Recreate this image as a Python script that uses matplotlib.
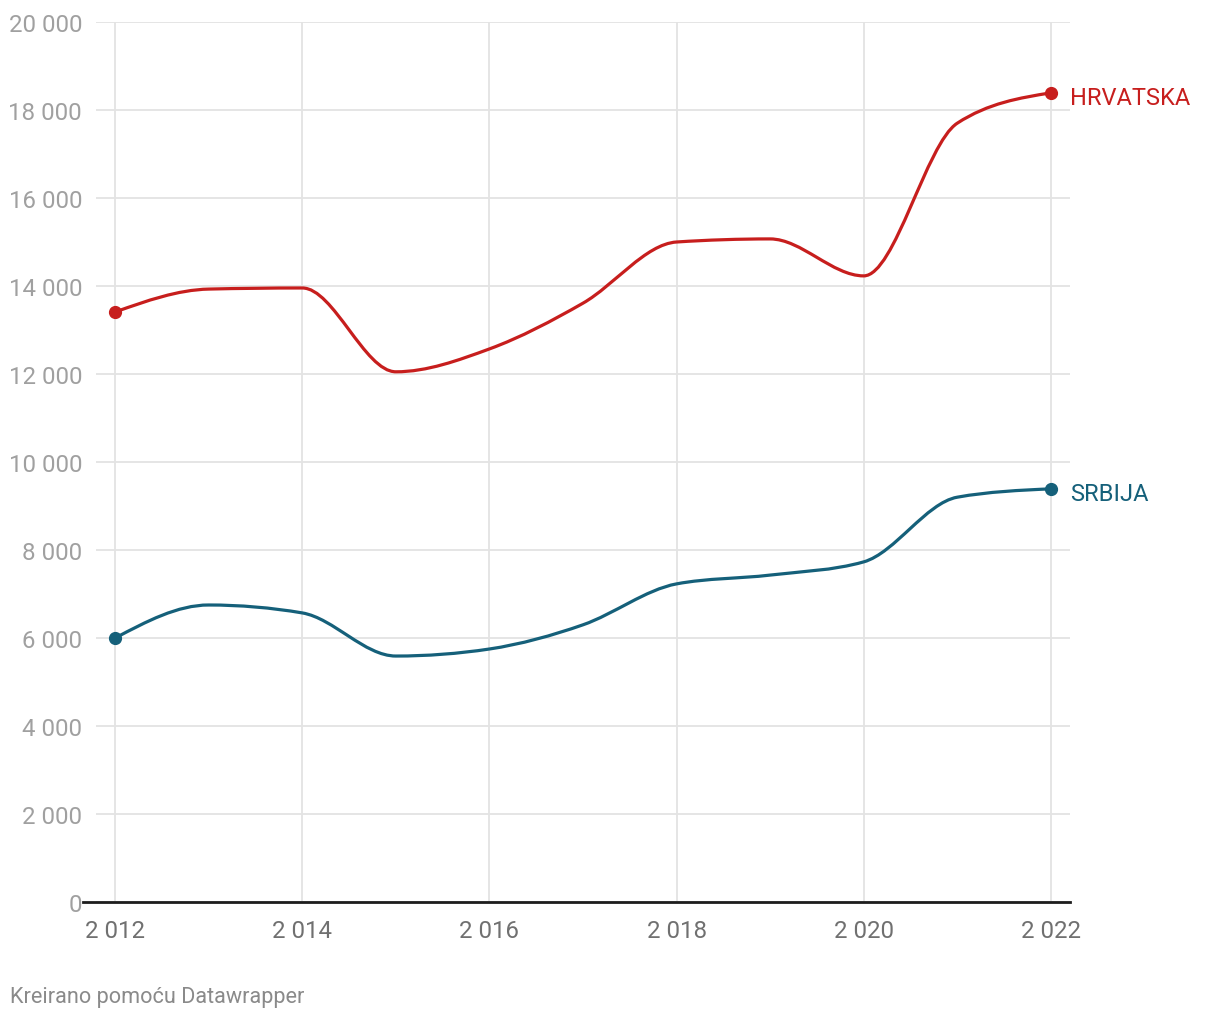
#Grafikon: Hrvatska i Srbija 2012-2022
import numpy as np
import matplotlib.pyplot as plt
from matplotlib.path import Path
from matplotlib.patches import PathPatch
from matplotlib.ticker import FuncFormatter

plt.rcParams['font.family'] = ['Roboto', 'DejaVu Sans']

#Podaci
godine = [2012, 2013, 2014, 2015, 2016, 2017, 2018, 2019, 2020, 2021, 2022]
hrvatska = [13410, 13930, 13955, 12050, 12570, 13610, 15000, 15070, 14230, 17700, 18390]
srbija = [6000, 6750, 6570, 5590, 5750, 6300, 7230, 7430, 7730, 9200, 9390]
nazivi = ['HRVATSKA', 'SRBIJA']
boje = ['#c71e1d', '#15607a']


def monotona_putanja(x, y):
    #Bezier putanja kao d3 curveMonotoneX
    x = np.asarray(x, float)
    y = np.asarray(y, float)
    n = len(x)
    h = np.diff(x)
    s = np.diff(y) / h
    t = np.zeros(n)
    for i in range(1, n - 1):
        p = (s[i - 1] * h[i] + s[i] * h[i - 1]) / (h[i - 1] + h[i])
        t[i] = (np.sign(s[i - 1]) + np.sign(s[i])) * min(abs(s[i - 1]), abs(s[i]), 0.5 * abs(p))
    t[0] = (3 * s[0] - t[1]) / 2
    t[-1] = (3 * s[-1] - t[-2]) / 2
    verts = [(x[0], y[0])]
    codes = [Path.MOVETO]
    for i in range(n - 1):
        dx = (x[i + 1] - x[i]) / 3
        verts += [(x[i] + dx, y[i] + dx * t[i]),
                  (x[i + 1] - dx, y[i + 1] - dx * t[i + 1]),
                  (x[i + 1], y[i + 1])]
        codes += [Path.CURVE4] * 3
    return Path(verts, codes)


fig = plt.figure(figsize=(12.2, 10.2), dpi=100)
ax = fig.add_axes([96 / 1220, 1 - 903 / 1020, (1070 - 96) / 1220, (903 - 23) / 1020])

for serija, naziv, boja in zip([hrvatska, srbija], nazivi, boje):
    ax.add_patch(PathPatch(monotona_putanja(godine, serija), fill=False,
                           edgecolor=boja, lw=2.3, capstyle='round', zorder=3))
    ax.plot([godine[0], godine[-1]], [serija[0], serija[-1]], 'o', color=boja,
            ms=8.5, zorder=4)
    ax.annotate(naziv, (godine[-1], serija[-1]), xytext=(14, -3),
                textcoords='offset points', color=boja, fontsize=17,
                va='center', ha='left')

ax.set_xlim(2011.795, 2022.205)
ax.set_ylim(0, 20000)
ax.set_xticks(range(2012, 2023, 2))
ax.set_yticks(range(0, 20001, 2000))
razmak = FuncFormatter(lambda v, pos: f'{int(v):,}'.replace(',', ' '))
ax.xaxis.set_major_formatter(razmak)
ax.yaxis.set_major_formatter(razmak)

ax.grid(True, color='#e3e3e3', lw=1.3)
ax.set_axisbelow(True)
for strana in ['top', 'right', 'left']:
    ax.spines[strana].set_visible(False)
ax.spines['bottom'].set_color('#1d1d1d')
ax.spines['bottom'].set_linewidth(2)
ax.spines['bottom'].set_bounds(2011.66, 2022.205)
ax.spines['bottom'].set_zorder(5)

ax.tick_params(axis='both', length=0)
ax.tick_params(axis='y', labelsize=17.3, labelcolor='#a0a0a0', pad=10)
ax.tick_params(axis='x', labelsize=17.3, labelcolor='#707070', pad=12)

fig.text(10 / 1220, 1 - 998 / 1020, 'Kreirano pomoću Datawrapper', fontsize=15.6,
         color='#8a8a8a', va='center', ha='left')

plt.savefig('out.png', dpi=100)
